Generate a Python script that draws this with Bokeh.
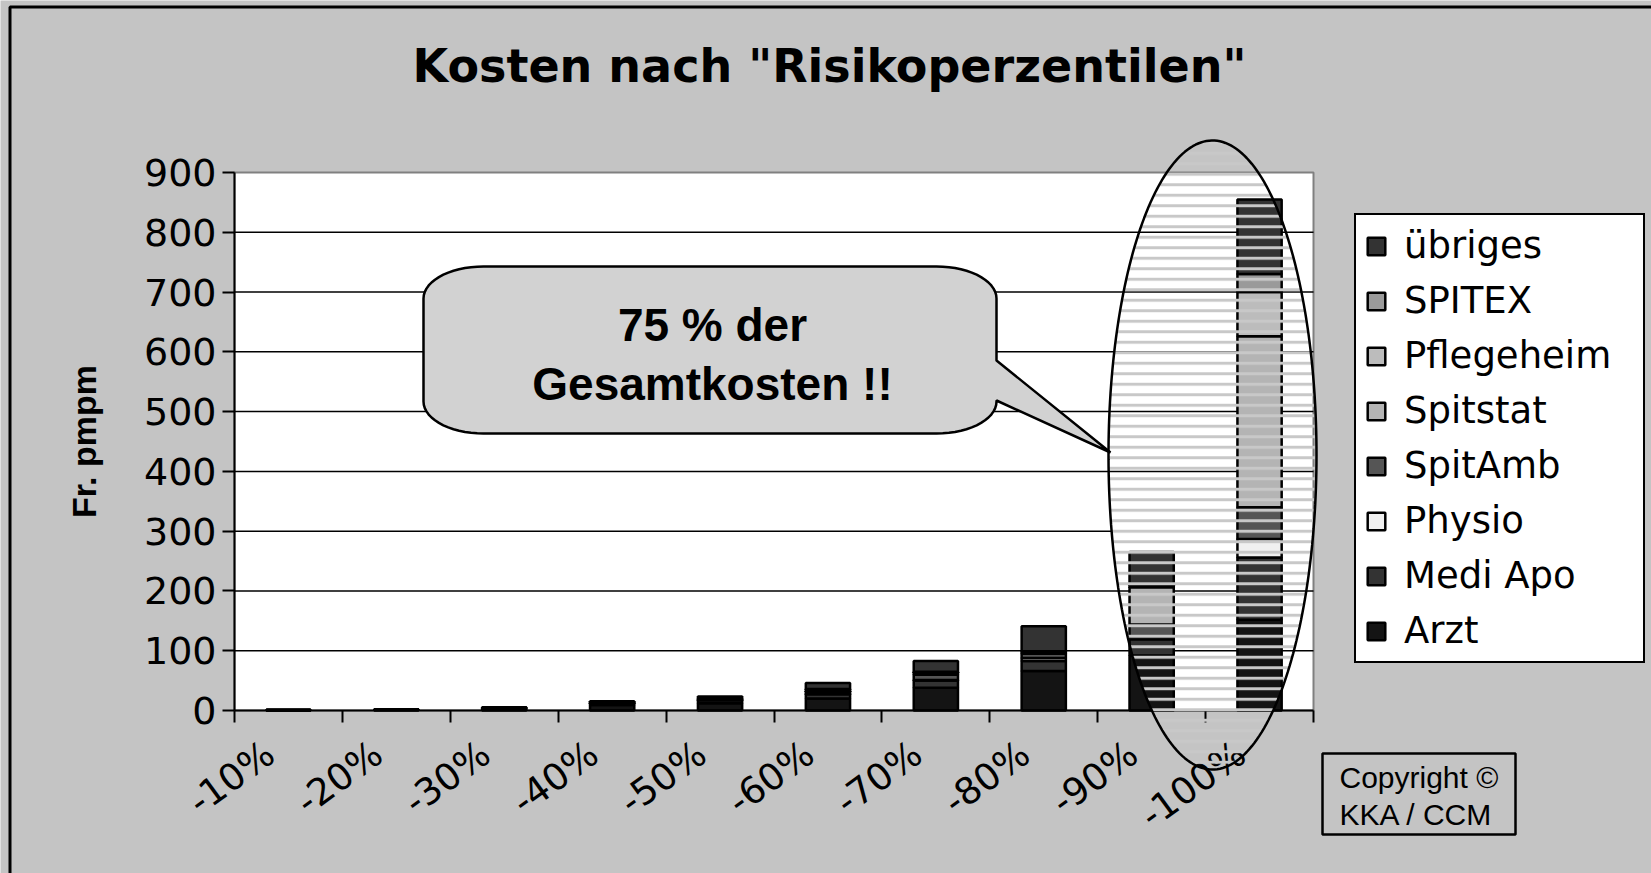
import numpy as np
from bokeh.plotting import figure
from bokeh.models import (Range1d, FixedTicker, Legend, LegendItem, PolyAnnotation,
                          BoxAnnotation, Label, ColumnDataSource)
from bokeh.embed import file_html
from bokeh.resources import INLINE

# ---------------- data ----------------
categories = ["-10%", "-20%", "-30%", "-40%", "-50%", "-60%", "-70%", "-80%", "-90%", "-100%"]
series_names = ["Arzt", "Medi Apo", "Physio", "SpitAmb", "Spitstat", "Pflegeheim", "SPITEX", "übriges"]
arzt       = [0.5, 1.0, 3.0, 9.0, 12.0, 20.0, 38.0, 66.0, 92.0, 152.0]
medi_apo   = [0.3, 0.5, 1.0, 3.0, 5.0, 7.0, 12.0, 17.0, 27.0, 104.0]
physio     = [0.0, 0.0, 0.0, 0.0, 0.5, 1.0, 1.0, 5.0, 5.0, 31.0]
spitamb    = [0.0, 0.0, 0.5, 1.0, 1.0, 4.0, 9.0, 7.0, 20.0, 53.0]
spitstat   = [0.0, 0.0, 0.0, 0.5, 1.0, 3.0, 4.0, 3.0, 62.0, 286.0]
pflegeheim = [0.0, 0.0, 0.0, 0.0, 0.0, 0.0, 0.0, 0.0, 3.0, 74.0]
spitex     = [0.0, 0.0, 0.0, 0.0, 0.0, 1.0, 1.0, 1.0, 3.0, 30.0]
uebriges   = [0.2, 0.5, 1.0, 2.0, 4.0, 10.0, 18.0, 42.0, 53.0, 125.0]
series_values = [arzt, medi_apo, physio, spitamb, spitstat, pflegeheim, spitex, uebriges]
colors = ["#141414", "#333333", "#f0f0f0", "#555555", "#b4b4b4", "#bcbcbc", "#9a9a9a", "#333333"]
y_ticks = [0, 100, 200, 300, 400, 500, 600, 700, 800, 900]
grid_values = [100, 200, 300, 400, 500, 600, 700, 800]
y_max = 900

title_text = 'Kosten nach "Risikoperzentilen"'
y_label = "Fr. pmpm"
callout_lines = ["75 % der", "Gesamtkosten !!"]
copyright_lines = ["Copyright ©", "KKA / CCM"]

# ---------------- layout (page pixels) ----------------
W, H = 1651, 873
OFF = 0
FL, FR, FT, FB = 234, 1313, 172, 710   # plot area in page pixels
n = len(categories)
LABEL_SHIFT = -0.17                      # rotated labels end slightly left of centre


def fx(px):
    return (px - FL) / (FR - FL) * n


def fy(py):
    return (FB - py) / (FB - FT) * y_max


xs = [i + 0.5 for i in range(n)]
label_pos = [x + LABEL_SHIFT for x in xs]
data = {"x": xs}
for name, vals in zip(series_names, series_values):
    data[name] = vals
src = ColumnDataSource(data)

p = figure(width=W, height=H,
           x_range=Range1d(fx(OFF), fx(OFF + W)), y_range=Range1d(fy(OFF + H), fy(OFF)),
           output_backend="svg", toolbar_location=None,
           min_border_left=0, min_border_right=0, min_border_top=0, min_border_bottom=0)
p.title.visible = False
p.background_fill_color = "#c4c4c4"
p.border_fill_color = "#c4c4c4"
p.outline_line_color = None
p.xgrid.visible = False
p.ygrid.visible = False

# white plot area
p.add_layout(BoxAnnotation(left=0, right=n, bottom=0, top=y_max, fill_color="white",
                           fill_alpha=1, line_color="#808080", line_alpha=1,
                           line_width=2, level="image"))
# horizontal grid lines
p.segment(x0=0, x1=n, y0=grid_values, y1=grid_values, line_color="black",
          line_width=1.5, level="underlay")

# x axis: labels at category centers, tick marks between categories
p.xaxis.fixed_location = 0
p.xaxis.bounds = (0, n)
p.xaxis.ticker = FixedTicker(ticks=label_pos, minor_ticks=list(range(n + 1)))
p.xaxis.major_label_overrides = {float(x): c for x, c in zip(label_pos, categories)}
p.xaxis.major_tick_out = 0
p.xaxis.major_tick_in = 0
p.xaxis.minor_tick_out = 12
p.xaxis.minor_tick_in = 0
p.xaxis.minor_tick_line_width = 2
p.xaxis.minor_tick_line_color = "black"
p.xaxis.axis_line_width = 2
p.xaxis.major_label_orientation = 0.63
p.xaxis.major_label_standoff = 27
p.xaxis.major_label_text_font = "DejaVu Sans"
p.xaxis.major_label_text_font_size = "37px"
p.xaxis.major_label_text_color = "black"

p.yaxis.fixed_location = 0
p.yaxis.bounds = (0, y_max)
p.yaxis.ticker = FixedTicker(ticks=y_ticks, minor_ticks=[])
p.yaxis.major_tick_out = 12
p.yaxis.major_tick_in = 0
p.yaxis.major_tick_line_width = 2
p.yaxis.axis_line_width = 2
p.yaxis.major_label_standoff = 6
p.yaxis.major_label_text_font = "DejaVu Sans"
p.yaxis.major_label_text_font_size = "38px"
p.yaxis.major_label_text_color = "black"
p.yaxis.axis_label = y_label
p.yaxis.axis_label_text_font = "Liberation Sans"
p.yaxis.axis_label_text_font_style = "bold"
p.yaxis.axis_label_text_font_size = "34px"
p.yaxis.axis_label_text_color = "black"
p.yaxis.axis_label_standoff = 38

renderers = p.vbar_stack(series_names, x="x", width=0.41, source=src,
                         fill_color=colors, line_color="black", line_width=2.5)

# outer frame border (left and top)
p.add_layout(PolyAnnotation(xs=[fx(9.5), fx(9.5), fx(3000), fx(3000)],
                            ys=[fy(3000), fy(6.5), fy(6.5), fy(3000)],
                            fill_alpha=0, line_color="black", line_alpha=1, line_width=3))

# title
p.add_layout(Label(x=fx(829), y=fy(65), text=title_text, text_align="center",
                   text_baseline="middle", text_font="DejaVu Sans", text_font_style="bold",
                   text_font_size="46px", text_color="black"))

# callout bubble
L, R, T, B = 423, 996, 266, 433
rx, ry = 60, 32
pts = []
def arc(cx, cy, a0, a1):
    for t in np.linspace(a0, a1, 16):
        pts.append((cx + rx * np.cos(t), cy - ry * np.sin(t)))
arc(R - rx, T + ry, 0, np.pi / 2)
arc(L + rx, T + ry, np.pi / 2, np.pi)
arc(L + rx, B - ry, np.pi, 1.5 * np.pi)
arc(R - rx, B - ry, 1.5 * np.pi, 2 * np.pi)
pts.append((R, 400))
pts.append((1110, 452))
pts.append((R, 360))
p.add_layout(PolyAnnotation(xs=[fx(a) for a, b in pts], ys=[fy(b) for a, b in pts],
                            fill_color="#d2d2d2", fill_alpha=1,
                            line_color="black", line_alpha=1, line_width=2.5))
for txt, cy in zip(callout_lines, [324, 383]):
    p.add_layout(Label(x=fx(712), y=fy(cy), text=txt, text_align="center",
                       text_baseline="middle", text_font="Liberation Sans",
                       text_font_style="bold", text_font_size="46px", text_color="black"))

# striped ellipse
ecx, ecy, erx, ery = 1212, 454.5, 104, 314.5
tt = np.linspace(0, 2 * np.pi, 240)
exs = [fx(ecx + erx * np.cos(t)) for t in tt]
eys = [fy(ecy + ery * np.sin(t)) for t in tt]
p.add_layout(PolyAnnotation(xs=exs, ys=eys, fill_alpha=0, line_alpha=0,
                            hatch_pattern="horizontal_line", hatch_color="#c8c8c8",
                            hatch_alpha=1, hatch_weight=3, hatch_scale=10.5))
p.add_layout(PolyAnnotation(xs=exs, ys=eys, fill_alpha=0,
                            line_color="black", line_alpha=1, line_width=2.5))

# legend
items = [LegendItem(label=name, renderers=[r])
         for name, r in reversed(list(zip(series_names, renderers)))]
legend = Legend(items=items, location=(1354 - OFF, OFF + H - 663))
legend.border_line_color = "black"
legend.border_line_alpha = 1
legend.border_line_width = 2.5
legend.background_fill_color = "white"
legend.background_fill_alpha = 1
legend.label_text_font = "DejaVu Sans"
legend.label_text_font_size = "37px"
legend.label_text_color = "black"
legend.glyph_width = 22
legend.glyph_height = 22
legend.label_standoff = 17
legend.padding = 9
legend.spacing = 12
legend.margin = 0
legend.label_width = 230
p.add_layout(legend)

# copyright box
p.add_layout(PolyAnnotation(xs=[fx(1322), fx(1515), fx(1515), fx(1322)],
                            ys=[fy(753), fy(753), fy(834), fy(834)],
                            fill_alpha=0, line_color="black", line_alpha=1, line_width=2.5))
for txt, cy in zip(copyright_lines, [777, 814]):
    p.add_layout(Label(x=fx(1339), y=fy(cy), text=txt, text_align="left",
                       text_baseline="middle", text_font="Liberation Sans",
                       text_font_size="30px", text_color="black"))

open("out.html", "w").write(file_html(p, INLINE))
